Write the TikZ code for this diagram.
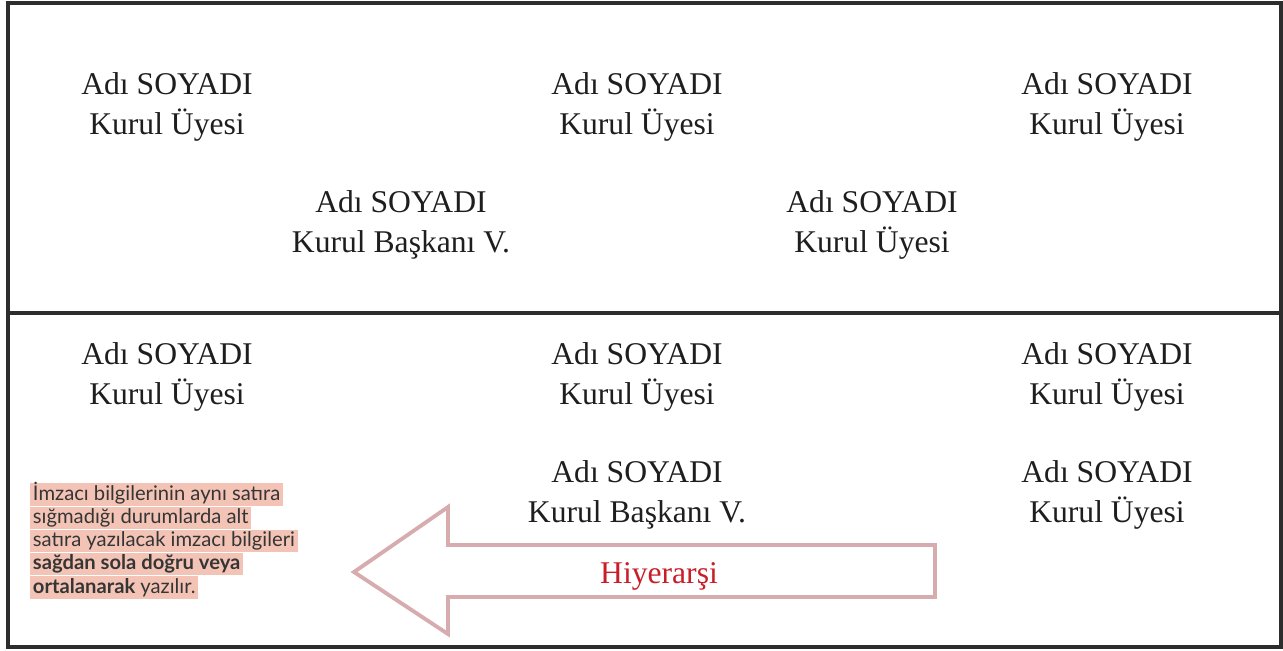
\documentclass[tikz,border=0pt]{standalone}
\usepackage{fontspec}
\setmainfont{Liberation Serif}
\newfontfamily\notfont{Lato}
\usetikzlibrary{positioning}
\definecolor{cerceve}{RGB}{45,45,45}
\definecolor{yazi}{RGB}{30,30,30}
\definecolor{okrenk}{RGB}{214,172,175}
\definecolor{vurgu}{RGB}{243,196,181}
\definecolor{hkirmizi}{RGB}{200,30,40}
\begin{document}
\begin{tikzpicture}[x=0.02cm, y=-0.02cm,
	imza/.style={align=center, text=yazi, font=\fontsize{18}{22.8}\selectfont, inner sep=0pt},
	notsatir/.style={fill=vurgu, text=yazi!90, font=\notfont\fontsize{11.5}{13}\selectfont, text height=9.4pt, text depth=3pt, inner xsep=1.5pt, inner ysep=0.2pt}]
	\useasboundingbox (0,0) rectangle (1283,650);
	% cerceve
	\draw[cerceve, line width=2.2pt] (8,3) rectangle (1281,647);
	\draw[cerceve, line width=1.8pt] (8,313) -- (1281,313);

	% ust bolum
	\node[imza] (uye1) at (167,107) {Adı SOYADI\\Kurul Üyesi};
	\node[imza] (uye2) at (637,107) {Adı SOYADI\\Kurul Üyesi};
	\node[imza] (uye3) at (1107,107) {Adı SOYADI\\Kurul Üyesi};
	\node[imza] (baskanv1) at (401,225) {Adı SOYADI\\Kurul Başkanı V.};
	\node[imza] (uye4) at (872,225) {Adı SOYADI\\Kurul Üyesi};

	% alt bolum
	\node[imza] (uye5) at (167,377) {Adı SOYADI\\Kurul Üyesi};
	\node[imza] (uye6) at (637,377) {Adı SOYADI\\Kurul Üyesi};
	\node[imza] (uye7) at (1107,377) {Adı SOYADI\\Kurul Üyesi};
	\node[imza] (baskanv2) at (637,495) {Adı SOYADI\\Kurul Başkanı V.};
	\node[imza] (uye8) at (1107,495) {Adı SOYADI\\Kurul Üyesi};

	% hiyerarsi oku
	\draw[okrenk, line width=2.2pt] (354,572) -- (448,507) -- (448,545) -- (935,545) -- (935,597) -- (448,597) -- (448,634) -- cycle;
	\node[text=hkirmizi, font=\fontsize{18}{20}\selectfont] (hiyerarsi) at (659,576) {Hiyerarşi};

	% aciklama notu
	\node[notsatir, anchor=north west] (not1) at (30,483) {İmzacı bilgilerinin aynı satıra};
	\node[notsatir, below=0pt of not1.south west, anchor=north west] (not2) {sığmadığı durumlarda alt};
	\node[notsatir, below=0pt of not2.south west, anchor=north west] (not3) {satıra yazılacak imzacı bilgileri};
	\node[notsatir, below=0pt of not3.south west, anchor=north west] (not4) {\textbf{sağdan sola doğru veya}};
	\node[notsatir, below=0pt of not4.south west, anchor=north west] (not5) {\textbf{ortalanarak} yazılır.};
\end{tikzpicture}
\end{document}
